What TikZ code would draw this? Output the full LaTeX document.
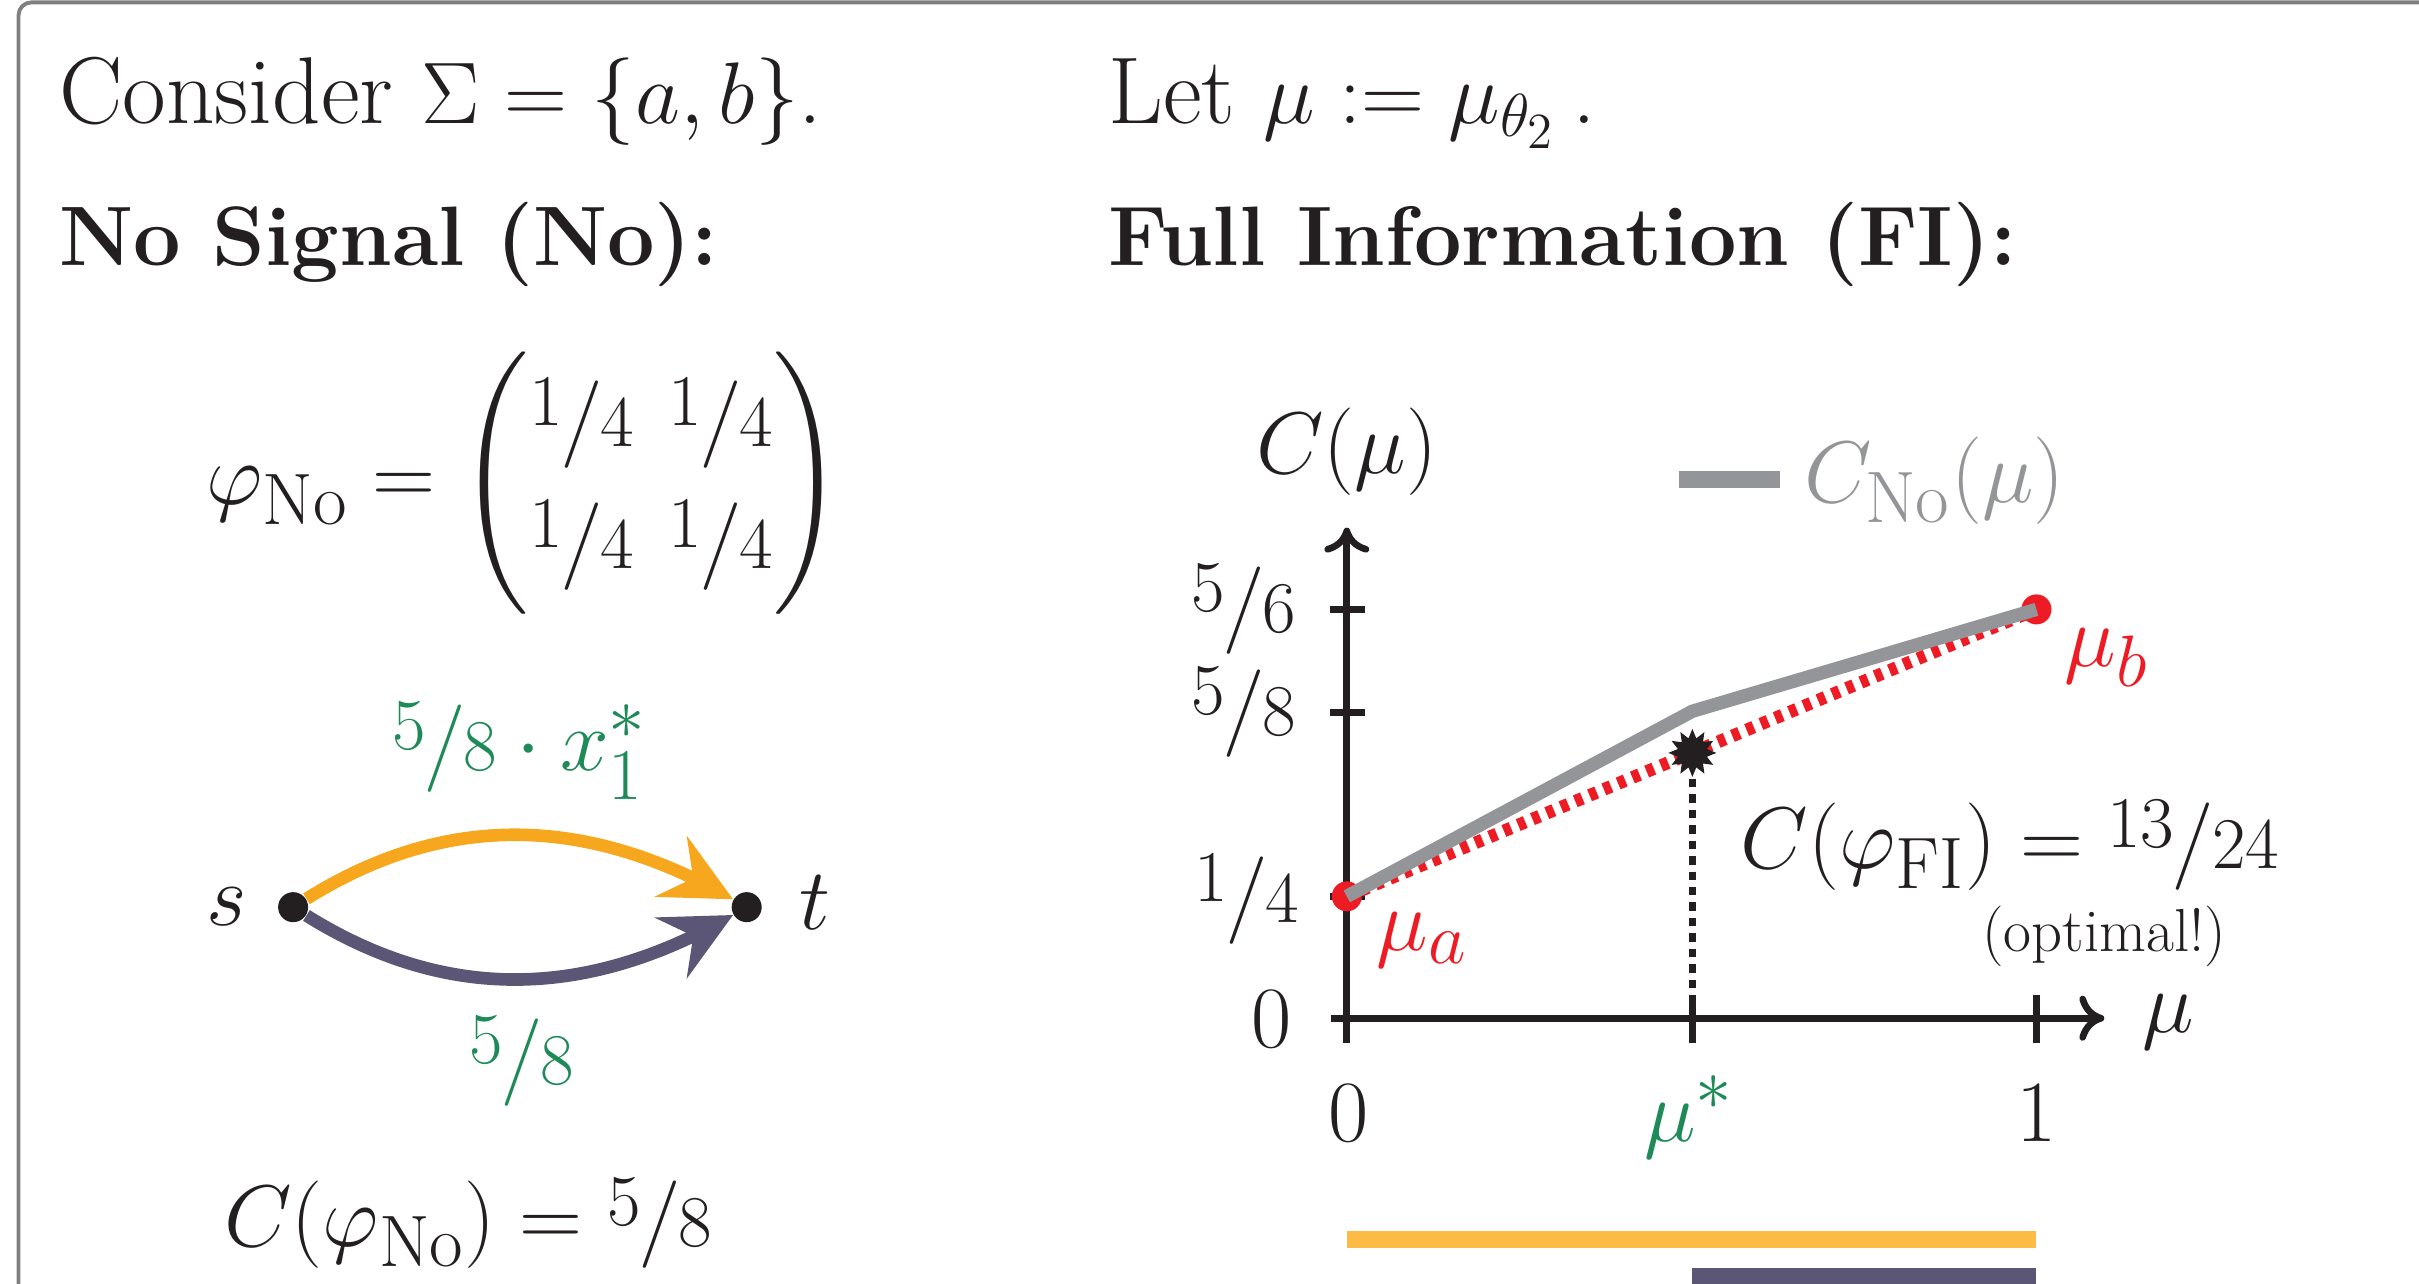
\documentclass[tikz,border=0pt]{standalone}
\usepackage{amsmath}
\usetikzlibrary{arrows.meta,bending,shapes.geometric}
\definecolor{ink}{RGB}{35,31,32}
\definecolor{grn}{RGB}{30,138,88}
\definecolor{redc}{RGB}{237,28,36}
\definecolor{grayline}{RGB}{147,149,152}
\definecolor{orangearc}{RGB}{247,167,30}
\definecolor{orangebar}{RGB}{252,187,68}
\definecolor{purp}{RGB}{92,86,118}
\definecolor{framec}{RGB}{128,128,128}
\newcommand{\nfr}[2]{\mbox{\raisebox{.55ex}{$\scriptstyle #1$}\kern-.03em$/$\kern-.03em$\scriptstyle #2$}}
\begin{document}
\begin{tikzpicture}[x=0.015427cm,y=0.015427cm,
  font=\fontsize{24.88}{29}\selectfont,
  every node/.style={inner sep=0pt, text=ink},
  headtext/.style={font=\fontsize{27}{32}\selectfont},
  boldtext/.style={font=\fontsize{24}{29}\selectfont\bfseries},
  dot/.style={circle, fill=ink, minimum size=0.3cm, inner sep=0pt},
  flowarc/.style={line width=3.6pt, -{Stealth[length=0.7cm, width=0.68cm, inset=0.25cm]}},
  axisline/.style={line width=1.9pt, draw=ink},
  axisarrow/.style={-{Computer Modern Rightarrow[length=0.25cm,width=0.45cm]}},
  redpt/.style={circle, fill=redc, minimum size=0.3cm, inner sep=0pt},
  smalltext/.style={font=\fontsize{17.28}{20}\selectfont}]
\useasboundingbox (0,0) rectangle (1568,-832);
\draw[framec, line width=1.1pt, rounded corners=0.13cm] (12,-1.5) rectangle (1700,-950);

% headings
\node[headtext, anchor=base west] (t1) at (38,-80) {Consider $\Sigma=\{a,b\}$.};
\node[boldtext, anchor=base west] (t2) at (38,-172) {No Signal (No):};
\node[headtext, anchor=base west] (t3) at (718,-80) {Let $\mu:=\mu_{\theta_2}$\,.};
\node[boldtext, anchor=base west] (t4) at (718,-172) {Full Information (FI):};

% left panel
\node (phimat) at (340,-313) {\renewcommand{\arraystretch}{1.2}$\varphi_{\mathrm{No}}=\begin{pmatrix}\nfr14&\nfr14\\\nfr14&\nfr14\end{pmatrix}$};

\node[dot] (s) at (190,-588) {};
\node[dot] (t) at (484,-588) {};
\node (slab) at (147,-588) {$s$};
\node (tlab) at (528,-585) {$t$};
\draw[flowarc, orangearc] (s) to[out=32,in=150] (t);
\draw[flowarc, purp] (s) to[out=-32,in=-150] (t);
\node[text=grn] (lup) at (337,-487) {$\nfr58\cdot x_1^*$};
\node[text=grn] (ldown) at (338,-688) {$\nfr58$};
\node[anchor=base west] (cno) at (145,-808) {$C(\varphi_{\mathrm{No}})=\nfr58$};

% right panel: plot
\coordinate (A) at (873,-581);
\coordinate (K) at (1097,-461);
\coordinate (B) at (1320,-395);
\coordinate (M) at (1097,-488);
\coordinate (XM) at (1097,-660);

\draw[axisline, axisarrow] (873,-676) -- (873,-342);
\draw[axisline, axisarrow] (863,-660) -- (1364,-660);
\draw[axisline] (862,-395) -- (885,-395);
\draw[axisline] (862,-462) -- (885,-462);
\draw[axisline] (862,-581) -- (885,-581);
\draw[axisline] (1097,-645) -- (1097,-676);
\draw[axisline] (1320,-645) -- (1320,-676);

\node[redpt] (pa) at (A) {};
\node[redpt] (pb) at (B) {};
\draw[redc, line width=3.6pt, dash pattern=on 2.2pt off 2.2pt] (pa.center) -- (pb.center);
\draw[grayline, line width=3.8pt] (pa.center) -- (K) -- (pb.center);
\node[star, star points=12, star point ratio=1.6, fill=ink, minimum size=0.48cm, inner sep=0pt] (mstar) at (M) {};
\draw[ink, line width=2pt, dash pattern=on 2.4pt off 2pt] (mstar) -- (XM);

\node[anchor=base] (ylab) at (873,-307) {$C(\mu)$};
\draw[grayline, line width=4.8pt] (1088,-311) -- (1154,-311);
\node[anchor=base west, text=grayline] (leg) at (1169,-326) {$C_{\mathrm{No}}(\mu)$};

\node (l56) at (806,-395) {$\nfr56$};
\node (l58) at (806,-462) {$\nfr58$};
\node (l14) at (808,-583) {$\nfr14$};
\node (l0y) at (824,-661) {$0$};
\node[anchor=base] (l0x) at (874,-740) {$0$};
\node[anchor=base, text=grn] (lmu) at (1095,-740) {$\mu^*$};
\node[anchor=base] (l1x) at (1320,-740) {$1$};
\node[anchor=base west] (lmuax) at (1388,-669) {$\mu$};
\node[anchor=base west, text=redc] (mua) at (892,-616) {$\mu_a$};
\node[anchor=base west, text=redc] (mub) at (1338,-432) {$\mu_b$};
\node[anchor=base west] (cfi) at (1128,-563) {$C(\varphi_{\mathrm{FI}})=\nfr{13}{24}$};
\node[smalltext] (opt) at (1364,-607) {(optimal!)};

\fill[orangebar] (873,-798) rectangle (1320,-809);
\fill[purp] (1097,-822) rectangle (1320,-835);
\end{tikzpicture}
\end{document}
